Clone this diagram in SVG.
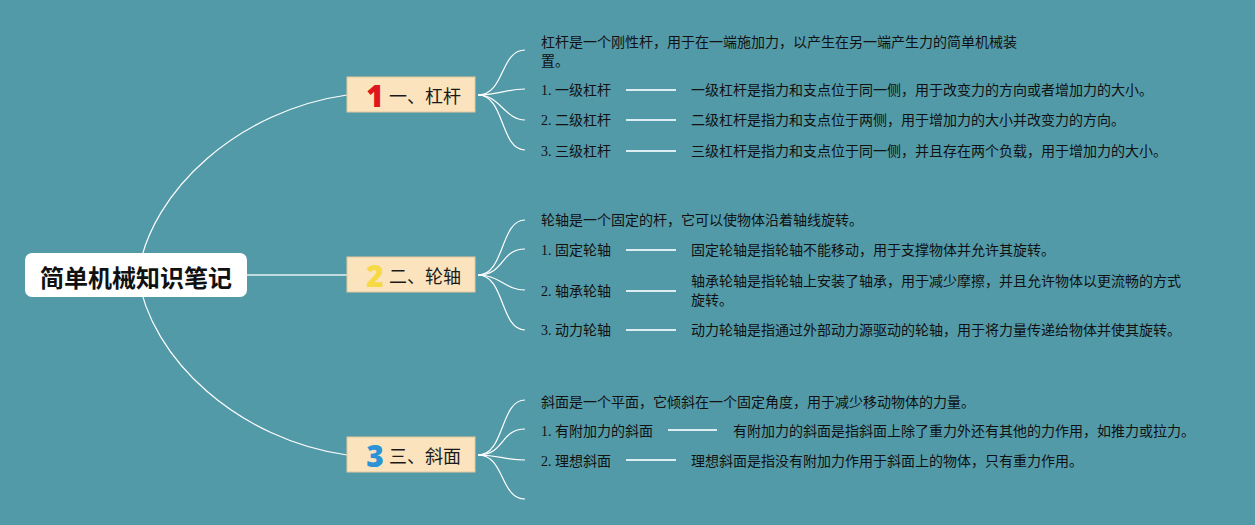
<svg xmlns="http://www.w3.org/2000/svg" width="1255" height="525" viewBox="0 0 1255 525">
<style>
.bg{fill:#539AA8}
.root{fill:#FFFFFF}
.roottxt{font-family:"Noto Sans CJK SC",sans-serif;font-size:24px;font-weight:700;fill:#111}
.br{fill:#FBE3BD;stroke:#E3C79C;stroke-width:1}
.brtxt{font-family:"Noto Sans CJK SC",sans-serif;font-size:18px;fill:#1a1a1a}
.num{font-family:"Open Sans","Liberation Sans",sans-serif;font-size:30px;font-weight:800}
.t{font-family:"Liberation Serif","Noto Sans CJK SC",serif;font-size:14px;fill:#111}
.c{fill:none;stroke:#FFFFFF;stroke-width:1.2}
.c2{fill:none;stroke:#E4F0F2;stroke-width:1.5}
.sep{stroke:#DCEEF1;stroke-width:2}
</style>
<rect class="bg" x="0" y="0" width="1255" height="525"/>
<g id="connectors">
<path class="c" d="M138,275 C150,190 240,110 347,95"/>
<path class="c2" d="M247,275 L347,275"/>
<path class="c" d="M138,275 C150,360 240,440 347,455"/>
<path class="c" d="M478,95 C505,95 500,50 525,50"/>
<path class="c" d="M478,95 C500,95 505,89 525,89"/>
<path class="c" d="M478,95 C500,95 505,120 525,120"/>
<path class="c" d="M478,95 C505,95 500,150 525,150"/>
<path class="c" d="M478,275 C505,275 500,220 525,220"/>
<path class="c" d="M478,275 C505,275 500,249 525,249"/>
<path class="c" d="M478,275 C500,275 505,290 525,290"/>
<path class="c" d="M478,275 C505,275 500,330 525,330"/>
<path class="c" d="M478,455 C505,455 500,400 525,400"/>
<path class="c" d="M478,455 C505,455 500,429 525,429"/>
<path class="c" d="M478,455 C500,455 505,460 525,460"/>
<path class="c" d="M478,455 C505,455 500,499 525,499"/>
<line class="sep" x1="626" y1="90" x2="676" y2="90"/>
<line class="sep" x1="626" y1="120" x2="676" y2="120"/>
<line class="sep" x1="626" y1="151" x2="676" y2="151"/>
<line class="sep" x1="626" y1="250" x2="676" y2="250"/>
<line class="sep" x1="626" y1="291" x2="676" y2="291"/>
<line class="sep" x1="626" y1="330" x2="676" y2="330"/>
<line class="sep" x1="668" y1="430" x2="717" y2="430"/>
<line class="sep" x1="626" y1="460" x2="676" y2="460"/>
</g>
<g id="root">
<rect class="root" x="25" y="253" width="222" height="44" rx="7"/>
<text class="roottxt" x="136" y="276" text-anchor="middle" dominant-baseline="central">简单机械知识笔记</text>
</g>
<g id="branch1">
<rect class="br" x="347" y="77" width="128" height="35"/>
<text class="num" x="375" y="95" text-anchor="middle" dominant-baseline="central" fill="#E0161F">1</text>
<text class="brtxt" x="389" y="95" dominant-baseline="central">一、杠杆</text>
</g>
<g id="branch2">
<rect class="br" x="347" y="257" width="128" height="35"/>
<text class="num" x="375" y="275" text-anchor="middle" dominant-baseline="central" fill="#F6DA45">2</text>
<text class="brtxt" x="389" y="275" dominant-baseline="central">二、轮轴</text>
</g>
<g id="branch3">
<rect class="br" x="347" y="437" width="128" height="35"/>
<text class="num" x="375" y="455" text-anchor="middle" dominant-baseline="central" fill="#2B93D6">3</text>
<text class="brtxt" x="389" y="455" dominant-baseline="central">三、斜面</text>
</g>
<g id="b1-desc">
<text class="t" x="541" y="42" dominant-baseline="central">杠杆是一个刚性杆，用于在一端施加力，以产生在另一端产生力的简单机械装</text>
<text class="t" x="541" y="61" dominant-baseline="central">置。</text>
</g>
<g id="b1-1">
<text class="t" x="541" y="90" dominant-baseline="central">1. 一级杠杆</text>
<text class="t" x="691" y="90" dominant-baseline="central">一级杠杆是指力和支点位于同一侧，用于改变力的方向或者增加力的大小。</text>
</g>
<g id="b1-2">
<text class="t" x="541" y="120" dominant-baseline="central">2. 二级杠杆</text>
<text class="t" x="691" y="120" dominant-baseline="central">二级杠杆是指力和支点位于两侧，用于增加力的大小并改变力的方向。</text>
</g>
<g id="b1-3">
<text class="t" x="541" y="151" dominant-baseline="central">3. 三级杠杆</text>
<text class="t" x="691" y="151" dominant-baseline="central">三级杠杆是指力和支点位于同一侧，并且存在两个负载，用于增加力的大小。</text>
</g>
<g id="b2-desc">
<text class="t" x="541" y="220" dominant-baseline="central">轮轴是一个固定的杆，它可以使物体沿着轴线旋转。</text>
</g>
<g id="b2-1">
<text class="t" x="541" y="250" dominant-baseline="central">1. 固定轮轴</text>
<text class="t" x="691" y="250" dominant-baseline="central">固定轮轴是指轮轴不能移动，用于支撑物体并允许其旋转。</text>
</g>
<g id="b2-2">
<text class="t" x="541" y="291" dominant-baseline="central">2. 轴承轮轴</text>
<text class="t" x="691" y="281" dominant-baseline="central">轴承轮轴是指轮轴上安装了轴承，用于减少摩擦，并且允许物体以更流畅的方式</text>
<text class="t" x="691" y="300" dominant-baseline="central">旋转。</text>
</g>
<g id="b2-3">
<text class="t" x="541" y="330" dominant-baseline="central">3. 动力轮轴</text>
<text class="t" x="691" y="330" dominant-baseline="central">动力轮轴是指通过外部动力源驱动的轮轴，用于将力量传递给物体并使其旋转。</text>
</g>
<g id="b3-desc">
<text class="t" x="541" y="402" dominant-baseline="central">斜面是一个平面，它倾斜在一个固定角度，用于减少移动物体的力量。</text>
</g>
<g id="b3-1">
<text class="t" x="541" y="431" dominant-baseline="central">1. 有附加力的斜面</text>
<text class="t" x="733" y="431" dominant-baseline="central">有附加力的斜面是指斜面上除了重力外还有其他的力作用，如推力或拉力。</text>
</g>
<g id="b3-2">
<text class="t" x="541" y="461" dominant-baseline="central">2. 理想斜面</text>
<text class="t" x="691" y="461" dominant-baseline="central">理想斜面是指没有附加力作用于斜面上的物体，只有重力作用。</text>
</g>
</svg>
